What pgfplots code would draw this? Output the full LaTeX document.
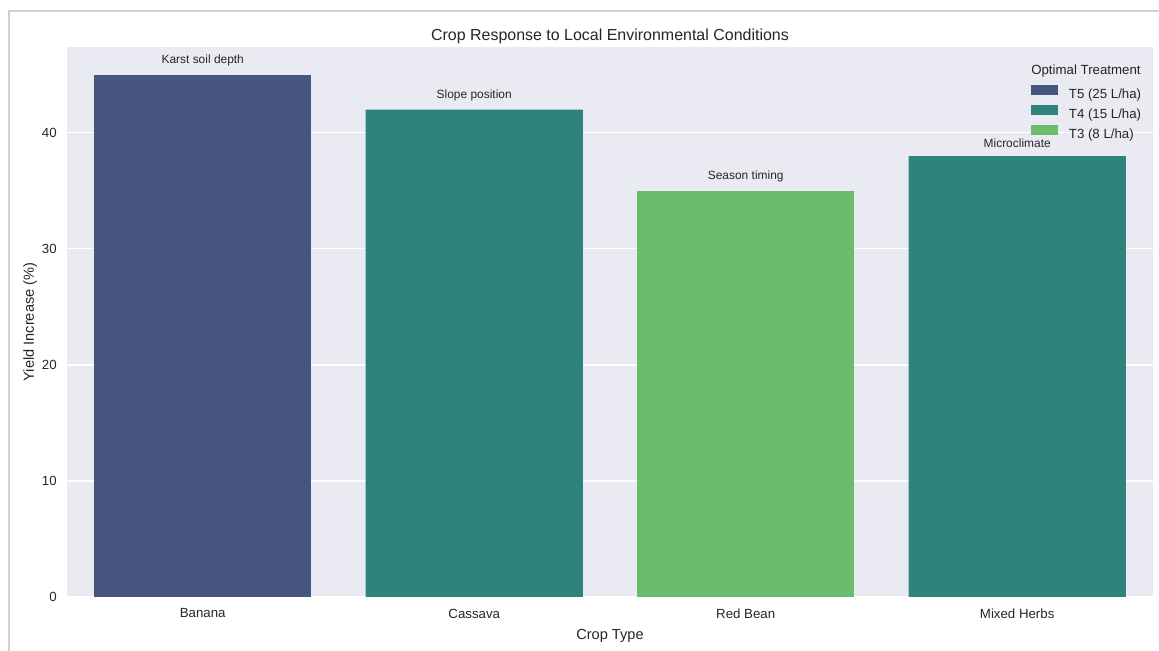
\documentclass[border=0pt]{standalone}
\usepackage{pgfplots}
\pgfplotsset{compat=1.18}
\usepackage{fontspec}
\setmainfont{Liberation Sans}
\definecolor{bgc}{HTML}{EAEAF2}
\definecolor{tfive}{HTML}{45557D}
\definecolor{tfour}{HTML}{2E837C}
\definecolor{tthree}{HTML}{6BBD6D}
\definecolor{txt}{HTML}{262626}
\begin{document}
\begin{tikzpicture}
\path[use as bounding box] (0pt,0pt) rectangle (834.5pt,468.7pt);
\draw[color=black!18, line width=0.8pt] (6.5pt,-2pt) -- (6.5pt,460.8pt) -- (840pt,460.8pt);
\begin{axis}[
  at={(48.24pt,38.88pt)}, anchor=south west,
  scale only axis, width=781.9pt, height=396pt,
  xmin=-0.5, xmax=3.5, ymin=0, ymax=47.4,
  xtick={0,1,2,3},
  xticklabels={Banana,Cassava,Red Bean,Mixed Herbs},
  ytick={0,10,20,30,40},
  /pgf/number format/assume math mode=true,
  axis background/.style={fill=bgc},
  ymajorgrids, grid style={white, line width=0.9pt},
  axis line style={draw=none},
  tick style={draw=none}, major tick length=0pt,
  ticklabel style={text=txt, font=\fontsize{9.55}{11}\selectfont},
  xticklabel style={inner sep=0pt, anchor=north, yshift=-8.3pt},
  yticklabel style={inner sep=0pt, anchor=east, xshift=-7.2pt},
  title={Crop Response to Local Environmental Conditions},
  title style={at={(axis description cs:0.5,1.0126)}, anchor=base, inner sep=0pt, yshift=-6.5pt, text=txt, font=\fontsize{11.5}{13}\selectfont},
  xlabel={Crop Type},
  xlabel style={at={(axis description cs:0.5,-0.071)}, anchor=center, inner sep=0pt, text=txt, font=\fontsize{10.5}{12}\selectfont},
  ylabel={Yield Increase (\%)},
  ylabel style={at={(axis description cs:-0.034,0.5)}, anchor=center, inner sep=0pt, text=txt, font=\fontsize{10.5}{12}\selectfont},
  ybar, bar width=0.8, bar shift=0pt,
  legend style={at={(axis description cs:0.8877,0.930)}, anchor=north west, draw=none, fill=none,
    inner sep=0pt, outer sep=0pt, row sep=2.9pt, text=txt,
    font=\fontsize{9.55}{11}\selectfont,
    nodes={inner sep=0pt},
    /tikz/every odd column/.append style={column sep=7.9pt}},
  legend cell align=left,
  legend image code/.code={\fill[#1] (0pt,-0.2pt) rectangle (19.4pt,7.0pt);},
]
\addplot[fill=tfive, draw=none] coordinates {(0,45)};
\addlegendentry{T5 (25 L/ha)}
\addplot[fill=tfour, draw=none] coordinates {(1,42) (3,38)};
\addlegendentry{T4 (15 L/ha)}
\addplot[fill=tthree, draw=none] coordinates {(2,35)};
\addlegendentry{T3 (8 L/ha)}
\begin{scope}[every node/.style={anchor=south, inner sep=0pt, yshift=-2.5pt, text=txt, font=\fontsize{8.6}{10}\selectfont}]
\node at (axis cs:0,46) {Karst soil depth};
\node at (axis cs:1,43) {Slope position};
\node at (axis cs:2,36) {Season timing};
\node at (axis cs:3,39) {Microclimate};
\end{scope}
\node[anchor=center, inner sep=0pt, text=txt, font=\fontsize{9.55}{11}\selectfont] at (axis description cs:0.9383,0.956) {Optimal Treatment};
\end{axis}
\end{tikzpicture}
\end{document}
